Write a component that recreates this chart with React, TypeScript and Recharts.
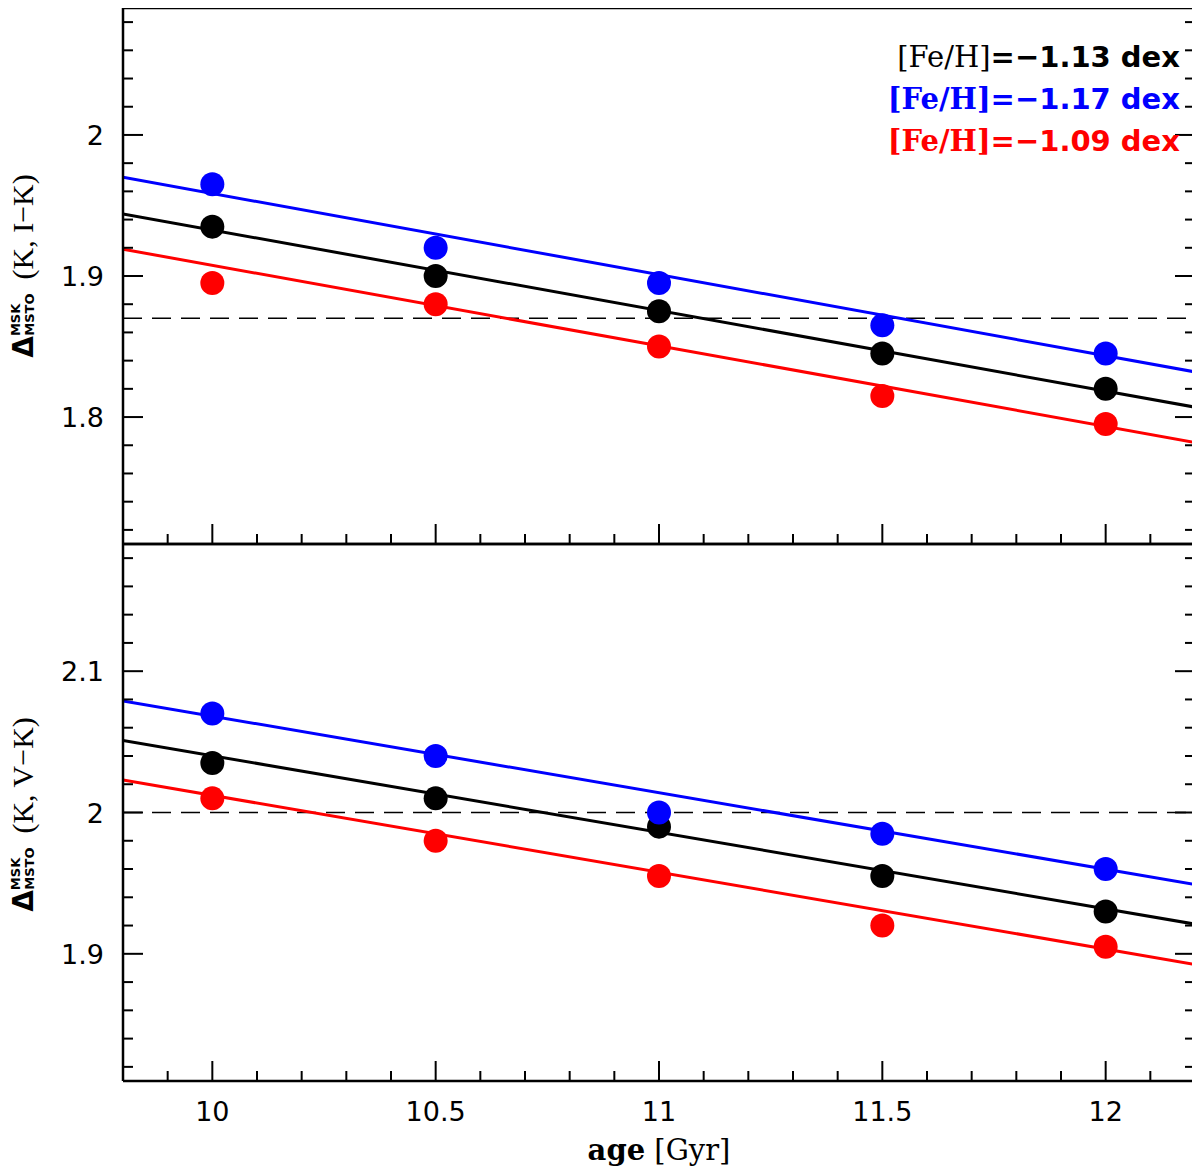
import React from 'react';
import { ComposedChart, XAxis, YAxis, Line, Scatter, ReferenceLine, Legend, Label } from 'recharts';

// ---- data ----
const ages = [10, 10.5, 11, 11.5, 12];
const fitAges = [9.8, 12.2];

const ikBlack = [1.935, 1.9, 1.875, 1.845, 1.82];
const ikBlue = [1.965, 1.92, 1.895, 1.865, 1.845];
const ikRed = [1.895, 1.88, 1.85, 1.815, 1.795];
const ikBlackFit = [1.944, 1.807];
const ikBlueFit = [1.97, 1.832];
const ikRedFit = [1.919, 1.782];
const ikRef = 1.87;

const vkBlack = [2.035, 2.01, 1.99, 1.955, 1.93];
const vkBlue = [2.07, 2.04, 2.0, 1.985, 1.96];
const vkRed = [2.01, 1.98, 1.955, 1.92, 1.905];
const vkBlackFit = [2.051, 1.921];
const vkBlueFit = [2.079, 1.949];
const vkRedFit = [2.023, 1.8925];
const vkRef = 2.0;

const xDomain = [9.8, 12.2];
const xMajorTicks = [10, 10.5, 11, 11.5, 12];
const xAllTicks = Array.from({ length: 23 }, (_, i) => Math.round((9.9 + 0.1 * i) * 10) / 10);

const ikDomain = [1.71, 2.09];
const ikMajorTicks = [1.8, 1.9, 2];
const ikAllTicks = Array.from({ length: 19 }, (_, i) => Math.round((1.72 + 0.02 * i) * 100) / 100);

const vkDomain = [1.81, 2.19];
const vkMajorTicks = [1.9, 2, 2.1];
const vkAllTicks = Array.from({ length: 19 }, (_, i) => Math.round((1.82 + 0.02 * i) * 100) / 100);

const legendValues = ['−1.13', '−1.17', '−1.09'];
const seriesColors = ['#000000', '#0000ff', '#ff0000'];

const W = 1200;
const H = 1171;

type Series = { color: string; values: number[]; fit: number[] };

const toPts = (xs: number[], ys: number[]) => xs.map((x, i) => ({ x, y: ys[i] }));

const axisLineStyle = { stroke: '#000', strokeWidth: 2.5 };

function EdgeTick(props: any) {
  const { x, y, payload, side, majors, showLabel } = props;
  const v = payload.value;
  const isMajor = majors.some((m: number) => Math.abs(m - v) < 1e-6);
  const len = isMajor ? 20 : 10;
  let x2 = x;
  let y2 = y;
  if (side === 'bottom') y2 = y - len;
  if (side === 'top') y2 = y + len;
  if (side === 'left') x2 = x + len;
  if (side === 'right') x2 = x - len;
  let label = null;
  if (showLabel && isMajor) {
    if (side === 'bottom') {
      label = (
        <text x={x} y={y + 40} textAnchor="middle" fill="#000" fontSize={27} fontFamily="DejaVu Sans">
          {String(v)}
        </text>
      );
    } else if (side === 'left') {
      label = (
        <text x={x - 19} y={y + 10} textAnchor="end" fill="#000" fontSize={27} fontFamily="DejaVu Sans">
          {String(v)}
        </text>
      );
    }
  }
  return (
    <g>
      <line x1={x} y1={y} x2={x2} y2={y2} stroke="#000" strokeWidth={2} />
      {label}
    </g>
  );
}

function YTitle(props: any) {
  const { viewBox, sub, shift } = props;
  const vb = viewBox || { x: 0, y: 0, width: 123, height: 536 };
  const cx = 33;
  const cy = vb.y + vb.height / 2 + shift;
  return (
    <text x={cx} y={cy} transform={`rotate(-90 ${cx} ${cy})`} textAnchor="middle" fill="#000">
      <tspan fontFamily="DejaVu Sans" fontWeight="bold" fontSize={28}>Δ</tspan>
      <tspan fontFamily="DejaVu Sans" fontWeight="bold" fontSize={13} dy={-13}>MSK</tspan>
      <tspan fontFamily="DejaVu Sans" fontWeight="bold" fontSize={13} dx={-32} dy={14}>MSTO</tspan>
      <tspan fontFamily="Liberation Serif" fontSize={30} dx={14} dy={-1}>{`(K, ${sub}−K)`}</tspan>
    </text>
  );
}

function XTitle(props: any) {
  const vb = props.viewBox || { x: 123, y: 1081, width: 1072, height: 90 };
  return (
    <text x={vb.x + vb.width / 2} y={vb.y + 79} textAnchor="middle" fill="#000" fontFamily="DejaVu Serif" fontSize={29}>
      <tspan fontWeight="bold">age</tspan>
      <tspan> [Gyr]</tspan>
    </text>
  );
}

function LegendBox() {
  return (
    <div style={{ textAlign: 'right', fontSize: 29, lineHeight: '42px', whiteSpace: 'nowrap' }}>
      {legendValues.map((v, i) => (
        <div key={i} style={{ color: seriesColors[i] }}>
          <span style={{ fontFamily: 'DejaVu Serif', fontWeight: i === 0 ? 'normal' : 'bold' }}>[Fe/H]</span>
          <span style={{ fontFamily: 'DejaVu Sans', fontWeight: 'bold' }}>{`=${v} dex`}</span>
        </div>
      ))}
    </div>
  );
}

const dot = (color: string) => (p: any) => <circle cx={p.cx} cy={p.cy} r={12} fill={color} />;

function Panel(props: {
  chartHeight: number;
  topH: number;
  bottomH: number;
  yDomain: number[];
  yMajor: number[];
  yAll: number[];
  series: Series[];
  refY: number;
  sub: string;
  titleShift: number;
  showX: boolean;
  showLegend: boolean;
}) {
  const { chartHeight, topH, bottomH, yDomain, yMajor, yAll, series, refY, sub, titleShift, showX, showLegend } = props;
  return (
    <div style={{ position: 'absolute', left: 0, top: 0 }}>
      <ComposedChart width={W} height={chartHeight} margin={{ top: 0, bottom: 0, left: 0, right: 0 }}>
        <XAxis xAxisId="xb" dataKey="x" type="number" orientation="bottom" domain={xDomain} allowDataOverflow
          ticks={xAllTicks} interval={0} height={bottomH} tickSize={0} tickMargin={0}
          axisLine={axisLineStyle} tickLine={false}
          tick={(p: any) => <EdgeTick {...p} side="bottom" majors={xMajorTicks} showLabel={showX} />}>
          {showX && <Label content={(p: any) => <XTitle viewBox={p.viewBox} />} />}
        </XAxis>
        <XAxis xAxisId="xt" type="number" orientation="top" domain={xDomain} allowDataOverflow
          ticks={xAllTicks} interval={0} height={topH} tickSize={0} tickMargin={0}
          axisLine={axisLineStyle} tickLine={false}
          tick={(p: any) => <EdgeTick {...p} side="top" majors={xMajorTicks} showLabel={false} />} />
        <YAxis yAxisId="yl" dataKey="y" type="number" orientation="left" domain={yDomain} allowDataOverflow
          ticks={yAll} interval={0} width={123} tickSize={0} tickMargin={0}
          axisLine={axisLineStyle} tickLine={false}
          tick={(p: any) => <EdgeTick {...p} side="left" majors={yMajor} showLabel={true} />}>
          <Label content={(p: any) => <YTitle viewBox={p.viewBox} sub={sub} shift={titleShift} />} />
        </YAxis>
        <YAxis yAxisId="yr" type="number" orientation="right" domain={yDomain} allowDataOverflow
          ticks={yAll} interval={0} width={5} tickSize={0} tickMargin={0}
          axisLine={axisLineStyle} tickLine={false}
          tick={(p: any) => <EdgeTick {...p} side="right" majors={yMajor} showLabel={false} />} />

        <ReferenceLine xAxisId="xb" yAxisId="yl" y={refY} stroke="#000" strokeWidth={1.6} strokeDasharray="19 10" />

        {series.map((s, i) => (
          <Line key={`l${i}`} xAxisId="xb" yAxisId="yl" data={toPts(fitAges, s.fit)} dataKey="y" type="linear"
            stroke={s.color} strokeWidth={3} dot={false} activeDot={false} isAnimationActive={false} />
        ))}
        {series.map((s, i) => (
          <Scatter key={`s${i}`} xAxisId="xb" yAxisId="yl" data={toPts(ages, s.values)} dataKey="y"
            shape={dot(s.color)} isAnimationActive={false} />
        ))}
        {showLegend && (
          <Legend layout="vertical" align="center" verticalAlign="middle"
            wrapperStyle={{ left: 800, top: 36, width: 380 }} content={() => <LegendBox />} />
        )}
      </ComposedChart>
    </div>
  );
}

export default function App() {
  const ikSeries: Series[] = [
    { color: seriesColors[0], values: ikBlack, fit: ikBlackFit },
    { color: seriesColors[1], values: ikBlue, fit: ikBlueFit },
    { color: seriesColors[2], values: ikRed, fit: ikRedFit },
  ];
  const vkSeries: Series[] = [
    { color: seriesColors[0], values: vkBlack, fit: vkBlackFit },
    { color: seriesColors[1], values: vkBlue, fit: vkBlueFit },
    { color: seriesColors[2], values: vkRed, fit: vkRedFit },
  ];
  return (
    <div style={{ position: 'relative', width: W, height: H, margin: '-8px 0 0 -8px', background: '#fff', overflow: 'hidden' }}>
      <Panel chartHeight={552} topH={8} bottomH={8} yDomain={ikDomain} yMajor={ikMajorTicks} yAll={ikAllTicks}
        series={ikSeries} refY={ikRef} sub="I" titleShift={-10} showX={false} showLegend={true} />
      <Panel chartHeight={H} topH={544} bottomH={90} yDomain={vkDomain} yMajor={vkMajorTicks} yAll={vkAllTicks}
        series={vkSeries} refY={vkRef} sub="V" titleShift={2} showX={true} showLegend={false} />
    </div>
  );
}
